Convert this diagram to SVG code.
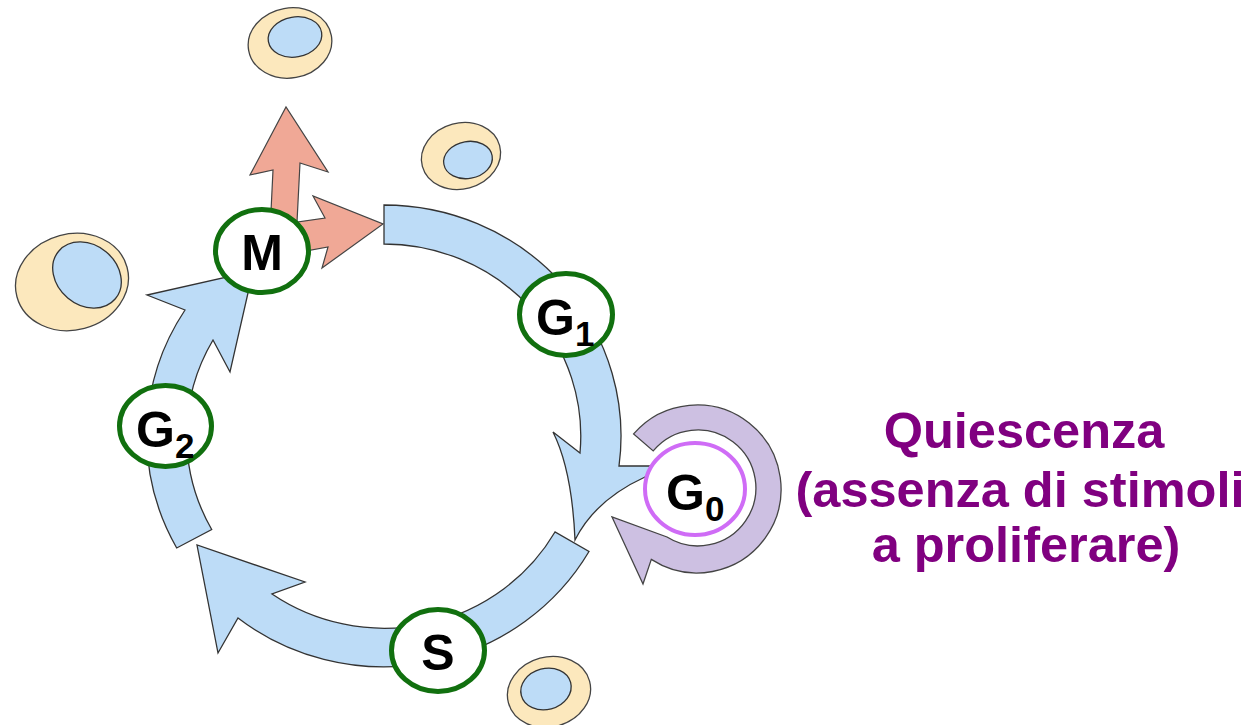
<svg xmlns="http://www.w3.org/2000/svg" width="1260" height="725" viewBox="0 0 1260 725">
  <defs>
    <style>
      .cell { fill: #fce8bd; stroke: #444; stroke-width: 1.3; }
      .nuc { fill: #bddcf7; stroke: #333; stroke-width: 1.3; }
      .band { fill: #bddcf7; stroke: #333; stroke-width: 1.3; stroke-linejoin: miter; }
      .mitosis { fill: #f0a896; stroke: #444; stroke-width: 1.2; }
      .rest { fill: #cdc0e2; stroke: #444; stroke-width: 1.3; }
      .phase { fill: #fff; stroke: #11700f; stroke-width: 5; }
      .quiet { fill: #fff; stroke: #cf6cf6; stroke-width: 4; }
      .lbl { font-family: "Liberation Sans", Arial, sans-serif; font-weight: bold; font-size: 50px; fill: #000; }
      .sub { font-size: 35px; fill: #000; }
      .note { font-family: "Liberation Sans", Arial, sans-serif; font-weight: bold; font-size: 50.5px; fill: #800080; text-anchor: middle; }
    </style>
  </defs>
  <rect width="1260" height="725" fill="#fff"/>

  <!-- daughter / resting cells -->
  <g id="cell-top">
    <ellipse class="cell" cx="290" cy="43" rx="42" ry="35" transform="rotate(-10 290 43)"/>
    <ellipse class="nuc" cx="295" cy="37" rx="27" ry="20" transform="rotate(-10 295 37)"/>
  </g>
  <g id="cell-right">
    <ellipse class="cell" cx="461" cy="156" rx="40" ry="33" transform="rotate(-15 461 156)"/>
    <ellipse class="nuc" cx="468" cy="160" rx="24.5" ry="18.5" transform="rotate(-10 468 160)"/>
  </g>
  <g id="cell-left">
    <ellipse class="cell" cx="72" cy="282" rx="57" ry="48" transform="rotate(-15 72 282)"/>
    <ellipse class="nuc" cx="87" cy="275" rx="37" ry="30" transform="rotate(40 87 275)"/>
  </g>
  <g id="cell-bottom">
    <ellipse class="cell" cx="549" cy="692" rx="42" ry="35" transform="rotate(-15 549 692)"/>
    <ellipse class="nuc" cx="546" cy="689" rx="25.5" ry="20.5" transform="rotate(-15 546 689)"/>
  </g>

  <!-- cycle arrows -->
  <g id="connectors">
    <!-- G1 band: top end to S, with branch into G0 -->
    <path class="band" d="M384,205 A237,231 0 0 1 619,466 L665,466 L665,478 L645,477 Q595,500 575,540 Q572,470 553,432 L580,453 A197,192 0 0 0 384,244 Z"/>
    <!-- S band -->
    <path class="band" d="M589,551.5 A237,231 0 0 1 238,618 L218,653 L197,545 L305,582 L272,594 A197,192 0 0 0 555,532 Z"/>
    <!-- G2 band -->
    <path class="band" d="M176.7,548 A237,231 0 0 1 185,310 L147,295 L253,271 L230,372 L213,340 A197,192 0 0 0 211.7,529.5 Z"/>
    <!-- mitosis split -->
    <path class="mitosis" d="M270,232 L273,170 L250,175 L286,107 L328,172 L300,163 L297,222 L325,218 L313,196 L383,224 L322,268 L328,247 L300,252 Z"/>
    <!-- G0 loop -->
    <path class="rest" d="M633.6,433.9 A84,84 0 1 1 651.3,559.4 L643,584 L612,517 L667,537 A58,58 0 1 0 653.2,450.9 Z"/>
  </g>

  <!-- phases -->
  <g id="node-M">
    <ellipse class="phase" cx="262" cy="251" rx="46.5" ry="41.5"/>
    <text class="lbl" x="262" y="270" text-anchor="middle">M</text>
  </g>
  <g id="node-G1">
    <ellipse class="phase" cx="566" cy="314.5" rx="46.5" ry="41"/>
    <text class="lbl" x="536" y="335">G<tspan class="sub" dy="11">1</tspan></text>
  </g>
  <g id="node-G2">
    <ellipse class="phase" cx="165.5" cy="426" rx="46" ry="40.5"/>
    <text class="lbl" x="136" y="447">G<tspan class="sub" dy="11">2</tspan></text>
  </g>
  <g id="node-S">
    <ellipse class="phase" cx="438" cy="650.5" rx="46.5" ry="41"/>
    <text class="lbl" x="438" y="670" text-anchor="middle">S</text>
  </g>
  <g id="node-G0">
    <ellipse class="quiet" cx="695" cy="489" rx="50" ry="46"/>
    <text class="lbl" x="666" y="510">G<tspan class="sub" dy="11">0</tspan></text>
  </g>

  <g id="note-quiescence">
    <text class="note" x="1024" y="448">Quiescenza</text>
    <text class="note" x="1020" y="507">(assenza di stimoli</text>
    <text class="note" x="1026" y="562">a proliferare)</text>
  </g>
</svg>
